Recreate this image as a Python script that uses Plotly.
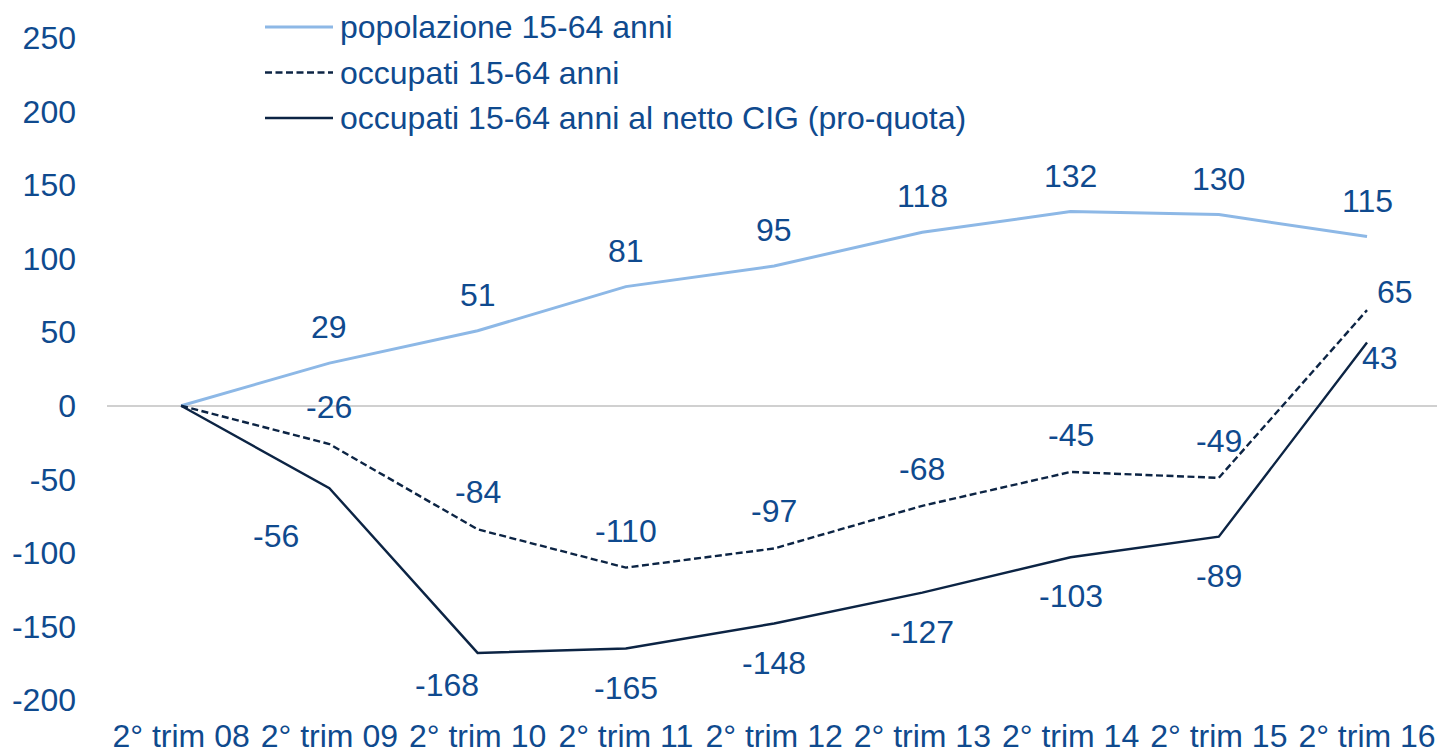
import plotly.graph_objects as go

categories = ["2° trim 08", "2° trim 09", "2° trim 10", "2° trim 11", "2° trim 12",
              "2° trim 13", "2° trim 14", "2° trim 15", "2° trim 16"]
popolazione = [0, 29, 51, 81, 95, 118, 132, 130, 115]
occupati = [0, -26, -84, -110, -97, -68, -45, -49, 65]
occupati_netto = [0, -56, -168, -165, -148, -127, -103, -89, 43]

names = ["popolazione 15-64 anni", "occupati 15-64 anni",
         "occupati 15-64 anni al netto CIG (pro-quota)"]
y_ticks = [-200, -150, -100, -50, 0, 50, 100, 150, 200, 250]
y_ticktext = ["-200", "-150", "-100", "-50", "0", "50", "100", "150", "200", "250"]

TEXT = "#0F4A8E"
LIGHT = "#8DB8E6"
DARK = "#0C2444"
FONT = "Liberation Sans, Arial, sans-serif"
FS = 32
DASH = "7px,3.5px"

fig = go.Figure()
fig.add_trace(go.Scatter(x=categories, y=popolazione, mode="lines", name=names[0],
                         line=dict(color=LIGHT, width=3)))
fig.add_trace(go.Scatter(x=categories, y=occupati, mode="lines", name=names[1],
                         line=dict(color=DARK, width=2.4, dash=DASH)))
fig.add_trace(go.Scatter(x=categories, y=occupati_netto, mode="lines", name=names[2],
                         line=dict(color=DARK, width=2.4)))

annotations = []
def lab(i, v, xs, ys):
    annotations.append(dict(x=categories[i], y=v, xref="x", yref="y", text=str(v),
                            showarrow=False, xshift=xs, yshift=ys,
                            font=dict(family=FONT, size=FS, color=TEXT)))

for i, v in enumerate(popolazione):
    if i == 0:
        continue
    lab(i, v, 0, 36)
for i, v in enumerate(occupati):
    if i == 0:
        continue
    if i == len(occupati) - 1:
        lab(i, v, 28, 18)
    else:
        lab(i, v, 0, 37)
for i, v in enumerate(occupati_netto):
    if i == 0:
        continue
    if i == 1:
        lab(i, v, -53, -48)
    elif i == 2:
        lab(i, v, -31, -32)
    elif i == len(occupati_netto) - 1:
        lab(i, v, 13, -15)
    else:
        lab(i, v, 0, -39)

# custom legend
W, H = 1437, 752
L, R, T, B = 107, 0, 38, 52
shapes = []
legend_rows = [(names[0], LIGHT, "solid", 3), (names[1], DARK, DASH, 2.4),
               (names[2], DARK, "solid", 2.4)]
for k, (nm, col, dash, w) in enumerate(legend_rows):
    ypix = 27 + k * 45.5
    yp = (H - B - ypix) / (H - B - T)
    shapes.append(dict(type="line", xref="paper", yref="paper",
                       x0=(265 - L) / (W - L - R), x1=(333 - L) / (W - L - R),
                       y0=yp, y1=yp, line=dict(color=col, width=w, dash=dash)))
    annotations.append(dict(xref="paper", yref="paper",
                            x=(338 - L) / (W - L - R), y=yp,
                            xanchor="left", yanchor="middle", text=nm, showarrow=False,
                            font=dict(family=FONT, size=FS, color=TEXT)))

fig.update_layout(
    width=W, height=H,
    margin=dict(l=L, r=R, t=T, b=B, autoexpand=False),
    paper_bgcolor="white", plot_bgcolor="white",
    showlegend=False,
    annotations=annotations,
    shapes=shapes,
    font=dict(family=FONT, size=FS, color=TEXT),
)
fig.update_xaxes(type="category", range=[-0.5, 8.472], showgrid=False, zeroline=False,
                 showline=False, ticks="", automargin=False,
                 tickfont=dict(family=FONT, size=FS, color=TEXT), ticklabelstandoff=14)
fig.update_yaxes(range=[-200, 250], tickvals=y_ticks, ticktext=y_ticktext, showgrid=False,
                 zeroline=True, zerolinecolor="#D0D0D0", zerolinewidth=2, showline=False,
                 ticks="", automargin=False,
                 tickfont=dict(family=FONT, size=FS, color=TEXT), ticklabelstandoff=30)

fig.write_html("out.html", config={"displayModeBar": False},
               post_script="document.body.style.margin='0';document.body.style.overflow='hidden';")
